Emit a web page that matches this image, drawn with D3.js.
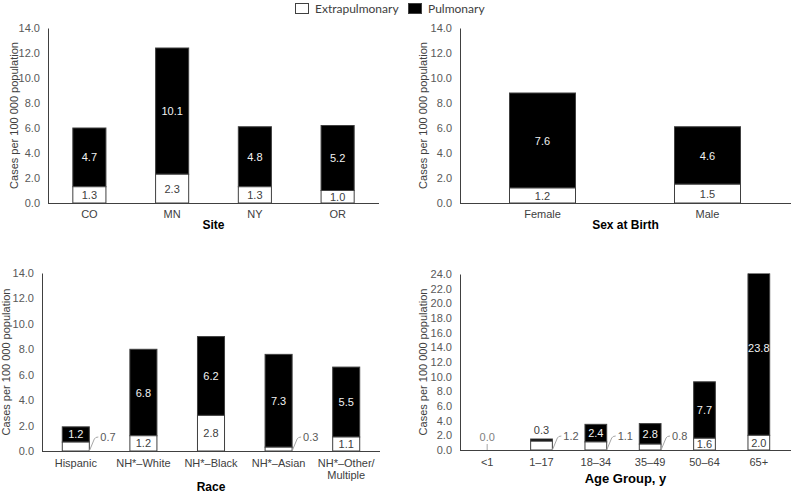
<!DOCTYPE html>
<html><head><meta charset="utf-8">
<script src="https://cdn.jsdelivr.net/npm/d3@7"></script>
<style>body{margin:0;background:#fff}svg{display:block}</style>
</head><body>
<svg id="c" width="791" height="495"></svg>
<script>
// ---- data ----
const siteCats = ["CO","MN","NY","OR"];
const siteExtra = [1.3,2.3,1.3,1.0];
const sitePulm = [4.7,10.1,4.8,5.2];

const sexCats = ["Female","Male"];
const sexExtra = [1.2,1.5];
const sexPulm = [7.6,4.6];

const raceCats = ["Hispanic","NH*\u2013White","NH*\u2013Black","NH*\u2013Asian","NH*\u2013Other/\nMultiple"];
const raceExtra = [0.7,1.2,2.8,0.3,1.1];
const racePulm = [1.2,6.8,6.2,7.3,5.5];

const ageCats = ["<1","1\u201317","18\u201334","35\u201349","50\u201364","65+"];
const ageExtra = [0.0,1.2,1.1,0.8,1.6,2.0];
const agePulm = [0.0,0.3,2.4,2.8,7.7,23.8];

const ticks14 = [0,2,4,6,8,10,12,14];
const ticks24 = [0,2,4,6,8,10,12,14,16,18,20,22,24];
const seriesNames = ["Extrapulmonary","Pulmonary"];

const svg = d3.select("#c");
const FONT = "'Liberation Sans', Arial, sans-serif";

function panel(o){
  const g = svg.append("g");
  const x = d3.scaleBand().domain(o.cats).range([o.x0,o.x1]).paddingInner(0.6).paddingOuter(0.3);
  const y = d3.scaleLinear().domain([0,o.ymax]).range([o.yb,o.yt]);
  const clipId = "clip"+o.id;
  svg.append("clipPath").attr("id",clipId).append("rect")
    .attr("x",o.x0).attr("y",o.yt-0.5).attr("width",o.x1-o.x0).attr("height",o.yb-o.yt+1);
  const bars = g.append("g").attr("clip-path","url(#"+clipId+")");
  o.cats.forEach((c,i)=>{
    const e=o.extra[i], p=o.pulm[i];
    if(e+p===0) return;
    bars.append("rect").attr("x",x(c)).attr("width",x.bandwidth())
      .attr("y",y(e+p)).attr("height",y(e)-y(e+p))
      .attr("fill","#000").attr("stroke","#404040").attr("stroke-width",1);
    bars.append("rect").attr("x",x(c)).attr("width",x.bandwidth())
      .attr("y",y(e)).attr("height",y(0)-y(e))
      .attr("fill","#fff").attr("stroke","#404040").attr("stroke-width",1);
  });
  // y axis
  const ya = d3.axisLeft(y).tickValues(o.ticks).tickFormat(d3.format(".1f")).tickSize(0).tickPadding(8);
  const yg = g.append("g").attr("transform",`translate(${o.x0},0)`).call(ya);
  yg.select(".domain").attr("stroke","#404040");
  yg.selectAll("text").attr("fill","#595959").attr("font-size",11).attr("font-family",FONT);
  // x axis line
  g.append("line").attr("x1",o.x0).attr("x2",o.xend).attr("y1",o.yb+0.5).attr("y2",o.yb+0.5).attr("stroke","#404040");
  // category labels
  o.cats.forEach(c=>{
    const lines=c.split("\n");
    const t=g.append("text").attr("x",x(c)+x.bandwidth()/2).attr("y",o.catY).attr("text-anchor","middle")
      .attr("fill","#404040").attr("font-size",11).attr("font-family",FONT);
    lines.forEach((l,k)=>t.append("tspan").attr("x",x(c)+x.bandwidth()/2).attr("dy",k?12:0).text(l));
  });
  // axis titles
  g.append("text").attr("x",(o.x0+o.xend)/2).attr("y",o.titleY).attr("text-anchor","middle")
    .attr("font-weight","bold").attr("font-size",o.titleSize||12).attr("fill","#000").attr("font-family",FONT).text(o.title);
  g.append("text").attr("transform",`translate(${o.ytX},${(o.yt+o.yb)/2}) rotate(-90)`)
    .attr("text-anchor","middle").attr("font-size",11).attr("fill","#404040").attr("font-family",FONT)
    .text("Cases per 100 000  population");
  // value labels
  o.cats.forEach((c,i)=>{
    const e=o.extra[i], p=o.pulm[i];
    const cx=x(c)+x.bandwidth()/2, right=x(c)+x.bandwidth();
    const f=d3.format(".1f");
    if(o.callZero && o.callZero.includes(c)){
      g.append("line").attr("x1",cx).attr("x2",cx).attr("y1",y(0)).attr("y2",y(0)-6).attr("stroke","#a6a6a6");
      g.append("text").attr("x",cx).attr("y",y(0)-9).attr("text-anchor","middle").attr("font-size",11)
        .attr("fill","#7f7f7f").attr("font-family",FONT).text(f(e));
      return;
    }
    // extrapulmonary
    if(o.callExtra && o.callExtra.includes(c)){
      g.append("path").attr("d",`M${right},${y(0)} L${right+5},${y(0)-12} Q${right+6},${y(0)-14} ${right+9},${y(0)-14}`)
        .attr("fill","none").attr("stroke","#a6a6a6");
      g.append("text").attr("x",right+11).attr("y",y(0)-10).attr("font-size",11)
        .attr("fill","#595959").attr("font-family",FONT).text(f(e));
    } else {
      g.append("text").attr("x",cx).attr("y",(y(0)+y(e))/2+4).attr("text-anchor","middle").attr("font-size",11)
        .attr("fill","#404040").attr("font-family",FONT).text(f(e));
    }
    // pulmonary
    if(o.abovePulm && o.abovePulm.includes(c)){
      g.append("text").attr("x",cx).attr("y",y(e+p)-5).attr("text-anchor","middle").attr("font-size",11)
        .attr("fill","#404040").attr("font-family",FONT).text(f(p));
    } else {
      g.append("text").attr("x",cx).attr("y",(y(e)+y(e+p))/2+4).attr("text-anchor","middle").attr("font-size",11)
        .attr("fill","#f2f2f2").attr("font-family",FONT).text(f(p));
    }
  });
}

panel({id:1,cats:siteCats,extra:siteExtra,pulm:sitePulm,x0:48,x1:379,xend:379,yt:28,yb:203,ymax:14,ticks:ticks14,
  catY:218,title:"Site",titleY:229,ytX:18});
panel({id:2,cats:sexCats,extra:sexExtra,pulm:sexPulm,x0:460,x1:790,xend:791,yt:28,yb:203,ymax:14,ticks:ticks14,
  catY:218,title:"Sex at Birth",titleY:229,ytX:427});
panel({id:3,cats:raceCats,extra:raceExtra,pulm:racePulm,x0:42,x1:380,xend:380,yt:273,yb:451,ymax:14,ticks:ticks14,
  catY:467,title:"Race",titleY:491,ytX:10,callExtra:["Hispanic","NH*\u2013Asian"]});
panel({id:4,cats:ageCats,extra:ageExtra,pulm:agePulm,x0:460,x1:786,xend:791,yt:274,yb:450,ymax:24,ticks:ticks24,
  catY:466,title:"Age Group, y",titleY:483,titleSize:13,ytX:427,
  callZero:["<1"],callExtra:["1\u201317","18\u201334","35\u201349"],abovePulm:["1\u201317"]});

// legend
const lg = svg.append("g");
const lx=[295,408];
seriesNames.forEach((s,i)=>{
  lg.append("rect").attr("x",lx[i]+0.5).attr("y",3.5).attr("width",13).attr("height",10)
    .attr("fill",i?"#000":"#fff").attr("stroke","#404040");
  lg.append("text").attr("x",lx[i]+20).attr("y",13).attr("font-size",12).attr("font-family","Lato, 'Open Sans', sans-serif")
    .attr("fill","#404040").text(s);
});
</script>
</body></html>
